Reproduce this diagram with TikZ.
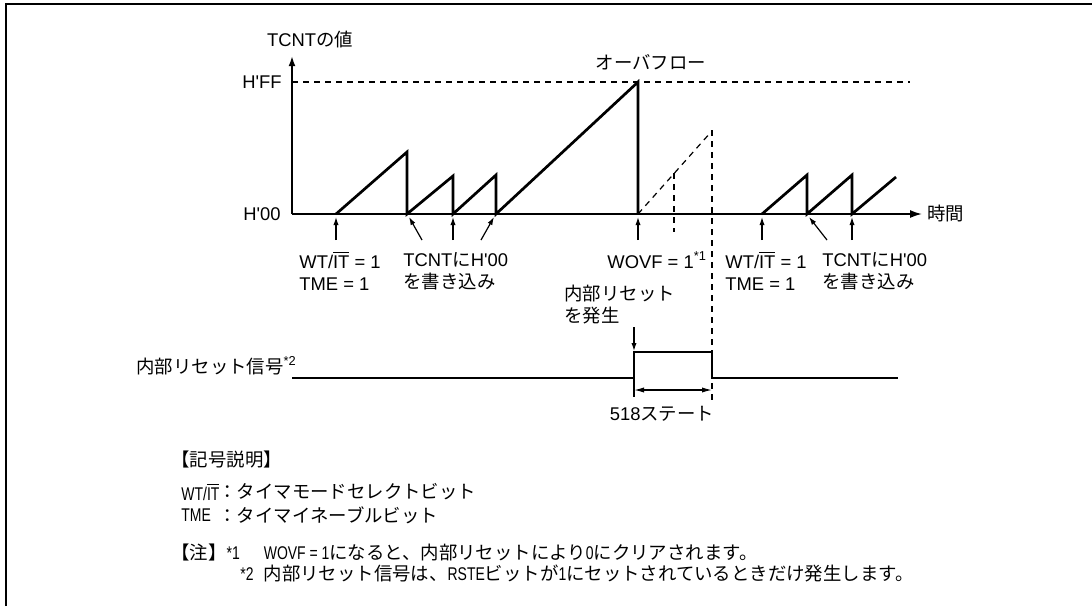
\documentclass[tikz,border=0pt]{standalone}
\usepackage{fontspec}
\usepackage{graphicx}
\usetikzlibrary{arrows.meta}
\newfontfamily\lsans{Liberation Sans}
\newfontfamily\lnarrow{Liberation Sans}[FakeStretch=0.76]
\newfontfamily\jp{Noto Sans CJK JP}
\newcommand\jtx[1]{{\jp #1}}
\newcommand\ovIT{$\overline{\mbox{IT}}$}
\begin{document}
\begin{tikzpicture}[x=0.5pt,y=-0.5pt,
  every node/.style={font=\lsans\fontsize{9.2}{11}\selectfont,inner sep=0pt},
  wave/.style={line width=1.35pt},
  axis/.style={line width=0.85pt},
  guide/.style={line width=0.6pt,dash pattern=on 3pt off 2.5pt},
  pointer/.style={line width=0.6pt,-{Latex[length=4pt,width=2.6pt]}},
  lbl/.style={anchor=west,align=left}]
  \useasboundingbox (0,0) rectangle (1092,606);
  \draw[line width=1pt] (6,606) -- (6,4) -- (1092,4);
  % axes
  \coordinate (orig) at (292,214);
  \coordinate (ytip) at (292,56);
  \coordinate (ttip) at (922,214);
  \draw[axis,-{Latex[length=5pt,width=3.4pt]}] (orig) -- (ytip);
  \draw[axis,-{Latex[length=6pt,width=4pt]}] (orig) -- (ttip);
  \node (yname) at (310,39) {TCNT\jtx{の値}};
  \node (ffval) at (262,82) {H'FF};
  \node (zval) at (262,214) {H'00};
  \node[anchor=west] (tname) at (927,214) {\jtx{時間}};
  \node (ovf) at (651,62) {\jtx{オーバフロー}};
  \coordinate (ffl) at (292,82);
  \coordinate (ffr) at (910,82);
  \draw[guide] (ffl) -- (ffr);
  % counter waveform
  \draw[wave] (336,214) -- (407,152) -- (407,214) -- (453,176) -- (453,214)
    -- (496,175) -- (496,214) -- (638,82) -- (638,214);
  \draw[wave] (762,214) -- (807,175) -- (807,214) -- (852,175) -- (852,214) -- (896,177);
  % counter after overflow (cleared)
  \coordinate (rampa) at (638,214);
  \coordinate (rampb) at (711,132);
  \draw[guide] (rampa) -- (rampb);
  \draw[guide] (674,173) -- (674,232);
  \draw[guide] (712,130) -- (712,403);
  % event arrows
  \foreach \tx/\hx [count=\i] in {336/336,422/409,453/453,481/494,638/638,762/762,827/809,852/852}{
    \coordinate (tail\i) at (\tx,240);
    \coordinate (head\i) at (\hx,217);
    \draw[pointer] (tail\i) -- (head\i);
  }
  \node[lbl] (start1) at (299,271) {WT/\ovIT{} = 1\\TME = 1};
  \node[lbl] (clr1) at (403,271) {TCNT\jtx{に}H'00\\\jtx{を書き込み}};
  \node[lbl] (wovf) at (607,260) {WOVF = 1\textsuperscript{*1}};
  \node[lbl] (start2) at (725,271) {WT/\ovIT{} = 1\\TME = 1};
  \node[lbl] (clr2) at (822,271) {TCNT\jtx{に}H'00\\\jtx{を書き込み}};
  \node[lbl] (rstgen) at (564,305) {\jtx{内部リセット}\\\jtx{を発生}};
  % internal reset signal
  \node[lbl] (rstname) at (136,366) {\jtx{内部リセット信号}\textsuperscript{*2}};
  \draw[wave] (292,378) -- (634,378) -- (634,352) -- (712,352) -- (712,378) -- (898,378);
  \coordinate (gentail) at (634,327);
  \coordinate (genhead) at (634,351);
  \draw[pointer] (gentail) -- (genhead);
  \draw[line width=0.6pt] (634,378) -- (634,397);
  \coordinate (wa) at (634,390);
  \coordinate (wb) at (712,390);
  \draw[line width=0.6pt,{Latex[length=5pt,width=2.6pt]}-{Latex[length=5pt,width=2.6pt]}] (wa) -- (wb);
  \node (width) at (662,414) {518\jtx{ステート}};
  % legend
  \node[lbl] (keyhead) at (171,460) {\jtx{【記号説明】}};
  \node[lbl] (key1) at (181,492) {\lnarrow WT/\ovIT};
  \node[lbl] (key1t) at (218,492) {\jtx{：タイマモードセレクトビット}};
  \node[lbl] (key2) at (181,515) {\lnarrow TME};
  \node[lbl] (key2t) at (218,515) {\jtx{：タイマイネーブルビット}};
  \node[lbl] (note1) at (171,552) {\jtx{【注】}\lnarrow *1\hspace{12pt}WOVF = 1\jtx{になると、内部リセットにより}0\jtx{にクリアされます。}};
  \node[lbl] (note2) at (240,573) {\lnarrow *2\hspace{5pt}\jtx{内部リセット信号は、}RSTE\jtx{ビットが}1\jtx{にセットされているときだけ発生します。}};
\end{tikzpicture}
\end{document}
